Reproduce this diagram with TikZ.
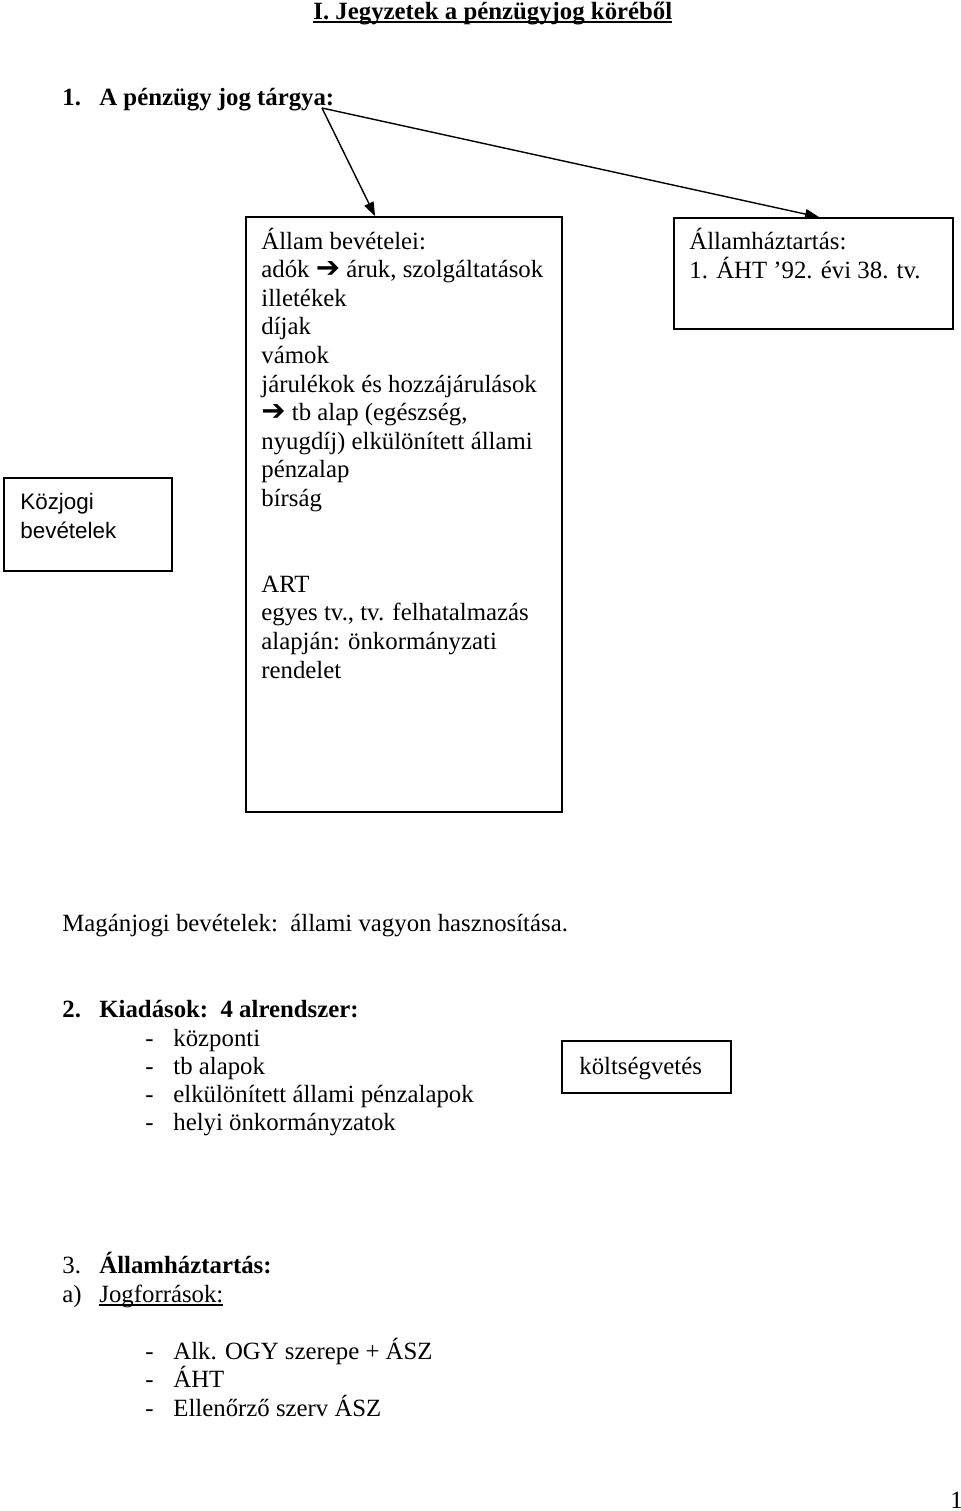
\documentclass[tikz,border=0pt]{standalone}
\usepackage{fontspec}
\setmainfont{Liberation Serif}
\newfontfamily\arialfont{Liberation Sans}
\newfontfamily\nyilfont{DejaVu Sans}
\usetikzlibrary{positioning, calc, arrows.meta, fit}
\newcommand{\jnyil}{{\nyilfont\bfseries\fontsize{14.5}{14.3}\selectfont ➔}}
\newsavebox{\alahuzbox}
\newcommand{\alahuz}[1]{\sbox{\alahuzbox}{#1}%
  \rlap{\rule[-1.8pt]{\wd\alahuzbox}{0.6pt}}\usebox{\alahuzbox}}

\begin{document}
\fontsize{12.4}{14.3}\selectfont
\begin{tikzpicture}[
    x=0.5pt, y=-0.5pt,
    doboz/.style={rectangle, draw=black, line width=0.9pt, inner sep=0pt},
    sor/.style={anchor=base west, inner sep=0pt},
    nyil/.style={-{Triangle[length=7pt,width=5pt]}, line width=0.7pt},
  ]
    \useasboundingbox (0,0) rectangle (960,1511);

    % Title
    \node[sor, font=\bfseries] (cim) at (313,19)
         {\alahuz{I. Jegyzetek a pénzügyjog köréből}};

    % 1. A penzugy jog targya
    \node[sor, font=\bfseries] (targy) at (62,105)
         {\makebox[18.5pt][l]{1.}A pénzügy jog tárgya:};
    \coordinate (csucs) at (322,108);

    % Boxes
    \node[doboz, fit={(246,217) (562,812)}] (allam) {};
    \node[doboz, fit={(674,218) (953,329)}] (aht) {};
    \node[doboz, fit={(4,478) (172,571)}] (kozjogi) {};
    \node[doboz, fit={(562,1041) (731,1093)}] (kv) {};

    \draw[nyil] (csucs) -- ($(allam.north west)+(130,0)$);
    \draw[nyil] (csucs) -- ($(aht.north west)+(146,0)$);

    \foreach \i/\t in {0/Állam bevételei:, 1/{adók \jnyil{} áruk, szolgáltatások},
        2/illetékek, 3/díjak, 4/vámok, 5/járulékok és hozzájárulások,
        6/{\jnyil{} tb alap (egészség,}, 7/nyugdíj) elkülönített állami,
        8/pénzalap, 9/bírság, 12/ART, 13/{egyes tv., tv. felhatalmazás},
        14/alapján: önkormányzati, 15/rendelet}
      \node[sor] (allam-\i) at (261,249+28.6*\i) {\t};

    \node[sor] (aht-1) at (689,249) {Államháztartás:};
    \node[sor] (aht-2) at (689,278) {1. ÁHT ’92. évi 38. tv.};

    \node[sor, font=\arialfont\fontsize{11.2}{14.3}\selectfont] (kozjogi-1) at (20,509) {Közjogi};
    \node[sor, font=\arialfont\fontsize{11.2}{14.3}\selectfont] (kozjogi-2) at (20,538) {bevételek};

    \node[sor] (maganjogi) at (62,931)
         {Magánjogi bevételek:\ \ állami vagyon hasznosítása.};

    % 2. Kiadasok
    \node[sor, font=\bfseries] (kiadasok) at (62,1017)
         {\makebox[18.5pt][l]{2.}Kiadások:\ \ 4 alrendszer:};
    \foreach \i/\t in {0/központi, 1/tb alapok, 2/elkülönített állami pénzalapok,
        3/helyi önkormányzatok}
      \node[sor] (alr-\i) at (145,1046+28.3*\i) {\makebox[14pt][l]{-}\t};

    \node[sor] (kv-szoveg) at (579,1074) {költségvetés};

    % 3. Allamhaztartas
    \node[sor] (aht-cim) at (62,1273)
         {\makebox[18.5pt][l]{3.}\textbf{Államháztartás:}};
    \node[sor] (jogforras) at (62,1302)
         {\makebox[18.5pt][l]{a)}\alahuz{Jogforrások:}};
    \foreach \i/\t in {0/Alk. OGY szerepe + ÁSZ, 1/ÁHT, 2/Ellenőrző szerv ÁSZ}
      \node[sor] (jf-\i) at (145,1359+28.5*\i) {\makebox[14pt][l]{-}\t};

    \node[sor] (oldal) at (950,1508) {1};
  \end{tikzpicture}
\end{document}
